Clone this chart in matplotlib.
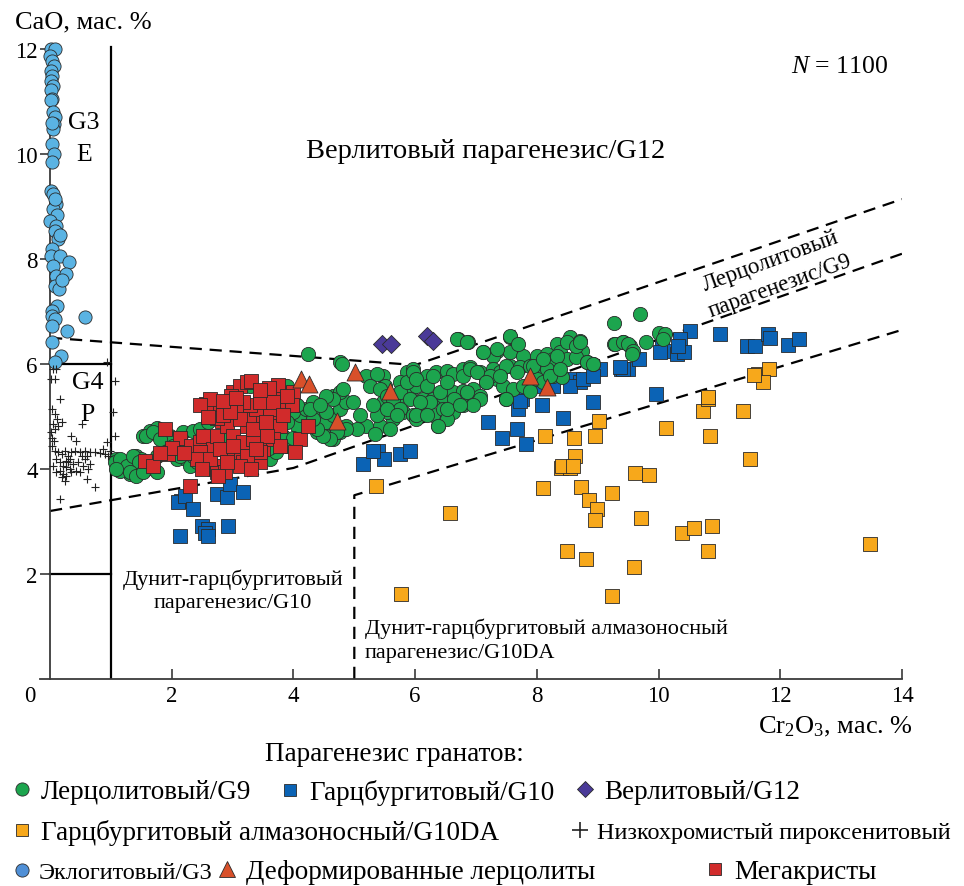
import matplotlib
matplotlib.use('Agg')
import matplotlib.pyplot as plt
from matplotlib.lines import Line2D

plt.rcParams['font.family'] = ['Liberation Serif', 'DejaVu Serif']
plt.rcParams['mathtext.fontset'] = 'custom'
plt.rcParams['mathtext.rm'] = 'Liberation Serif'
plt.rcParams['mathtext.it'] = 'Liberation Serif:italic'

# ---------------- data (Cr2O3, CaO wt.%) ----------------
eclogite_x = [0.02, 0.08, 0.00, 0.04, 0.06, 0.02, 0.04, 0.02, 0.05, 0.02, 0.04, 0.02, 0.05, 0.08,
              0.06, 0.05, 0.04, 0.06, 0.04, 0.02, 0.05, 0.10, 0.05, 0.12, 0.00, 0.10, 0.08, 0.13,
              0.04, 0.02, 0.17, 0.31, 0.05, 0.10, 0.26, 0.08, 0.15, 0.11, 0.04, 0.03, 0.08, 0.04,
              0.57, 0.28, 0.04, 0.18, 0.08, 0.03, 0.08, 0.16, 0.19]
eclogite_y = [12.0, 12.0, 11.87, 11.78, 11.68, 11.59, 11.49, 11.40, 11.30, 11.21, 11.05, 11.02,
              10.80, 10.70, 10.57, 10.48, 10.19, 10.00, 9.84, 9.30, 9.24, 9.05, 8.95, 8.83, 8.73,
              8.63, 8.54, 8.38, 8.19, 8.06, 8.06, 7.95, 7.87, 7.68, 7.71, 7.49, 7.43, 7.10, 7.01,
              6.91, 6.86, 6.72, 6.90, 6.63, 6.42, 6.15, 6.04, 10.6, 9.15, 8.45, 7.6]

pyroxenite_x = [0.05, 0.105, 0.02, 0.08, 0.16, 0.04, 0.08, 0.12, 0.05, 0.13, 0.19, 0.08, 0.02,
                0.04, 0.06, 0.04, 0.08, 0.13, 0.19, 0.24, 0.30, 0.35, 0.41, 0.49, 0.57, 0.65,
                0.74, 0.82, 0.90, 0.95, 0.10, 0.16, 0.21, 0.27, 0.32, 0.38, 0.46, 0.54, 0.63,
                0.16, 0.21, 0.19, 0.27, 0.52, 0.35, 0.43, 0.57, 0.65, 0.74, 0.16, 0.93, 1.06,
                1.04, 1.06, 0.93, 0.27, 0.43, 0.49, 0.60, 0.05, 0.10, 0.24, 0.35, 0.32, 0.30,
                0.52, 0.60, 0.98, 0.87]
pyroxenite_y = [5.90, 5.90, 5.71, 5.71, 5.33, 5.14, 5.05, 4.95, 4.86, 4.82, 4.89, 4.76, 4.70,
                4.60, 4.54, 4.44, 4.35, 4.32, 4.29, 4.35, 4.25, 4.32, 4.35, 4.32, 4.35, 4.32,
                4.33, 4.30, 4.29, 4.25, 4.19, 4.13, 4.06, 4.16, 4.19, 4.10, 4.13, 4.06, 4.00,
                3.97, 3.90, 3.84, 3.87, 4.86, 4.63, 4.54, 4.19, 4.10, 3.65, 3.43, 4.51, 4.63,
                5.08, 5.68, 6.03, 4.03, 3.97, 3.94, 3.81, 4.06, 3.94, 3.78, 3.94, 4.00, 4.13,
                4.25, 4.25, 4.35, 4.38]

harz_da_x = [5.35, 6.57, 5.76, 8.14, 8.61, 8.95, 9.02, 8.63, 8.40, 8.55, 8.10, 8.73, 9.24, 8.85,
             8.98, 8.95, 9.62, 9.85, 9.71, 10.12, 10.73, 10.82, 10.85, 11.38, 11.51, 10.38,
             10.59, 10.87, 10.82, 8.50, 8.81, 9.59, 9.24, 13.48, 11.63, 11.81, 11.72, 11.57,
             10.82, 8.41, 8.60]
harz_da_y = [3.67, 3.17, 1.62, 4.63, 4.60, 4.62, 4.92, 4.24, 4.01, 4.01, 3.63, 3.65, 3.54, 3.41,
             3.24, 3.03, 3.92, 3.89, 3.07, 4.79, 5.11, 5.33, 4.63, 5.10, 4.20, 2.79, 2.88, 2.91,
             2.43, 2.44, 2.29, 2.13, 1.59, 2.57, 5.81, 5.90, 5.65, 5.79, 5.37, 4.06, 4.06]

harz_x = [2.16, 2.10, 2.21, 2.35, 2.74, 2.90, 2.95, 3.17, 2.49, 2.60, 2.54, 2.93, 2.13, 2.60,
          5.15, 5.39, 5.48, 5.75, 5.91, 5.30, 7.20, 7.42, 7.67, 7.69, 7.75, 7.82, 8.08, 8.43,
          8.60, 8.71, 8.93, 9.04, 9.39, 9.50, 8.54, 8.27, 8.00, 8.16, 7.72, 8.05, 8.27, 8.76,
          8.93, 10.52, 11.01, 10.35, 10.05, 10.16, 10.30, 10.41, 10.32, 10.02, 9.67, 9.42,
          9.37, 11.45, 11.58, 11.80, 11.83, 12.13, 12.31, 9.96]
harz_y = [3.40, 3.37, 3.49, 3.24, 3.52, 3.46, 3.71, 3.56, 2.92, 2.86, 2.79, 2.92, 2.73, 2.73,
          4.10, 4.35, 4.19, 4.29, 4.35, 4.35, 4.89, 4.60, 4.76, 5.14, 5.33, 4.48, 5.21, 4.98,
          5.71, 5.65, 5.27, 5.90, 5.90, 5.90, 5.59, 5.65, 5.62, 5.59, 5.30, 5.59, 5.59, 5.71,
          5.78, 6.63, 6.57, 6.48, 6.35, 6.25, 6.19, 6.22, 6.35, 6.22, 6.10, 5.90, 5.94, 6.35,
          6.35, 6.57, 6.49, 6.37, 6.48, 5.43]

lherz_x = [1.09, 1.17, 1.26, 1.34, 1.42, 1.50, 1.58, 1.75, 1.47, 1.31, 1.15, 1.53, 1.64, 1.75,
           1.86, 1.91, 1.97, 2.08, 2.24, 2.30, 2.41, 2.52, 1.97, 2.19, 2.35, 2.46, 2.63, 2.74,
           2.90, 3.12, 3.28, 3.34, 3.61, 3.72, 3.89, 3.67, 3.83, 4.05, 4.10, 3.99, 4.21, 4.32,
           4.38, 4.54, 4.65, 4.76, 4.87, 4.65, 4.76, 4.38, 4.54, 4.65, 4.76, 4.87, 3.89, 3.89,
           4.05, 3.67, 3.45, 3.28, 3.78, 3.06, 4.76, 4.24,
           6.71, 6.87, 7.56, 7.67, 7.12, 7.34, 7.28, 7.56, 7.78, 8.00, 8.16, 8.33, 8.54, 8.71,
           8.74, 8.38, 8.27, 8.49, 8.65, 8.82, 8.93, 9.26, 9.42, 9.53, 5.47, 5.86, 5.97, 6.19,
           6.35, 6.52, 6.62, 6.79, 6.90, 7.06, 7.28, 7.39, 7.56, 7.72, 7.89, 8.05, 8.16, 8.27,
           8.41, 5.47, 5.64, 5.75, 5.91, 6.02, 6.13, 6.30, 6.46, 6.62, 6.79, 6.95, 7.06, 7.17,
           7.34, 7.45, 7.61, 7.78, 7.89, 7.50, 5.64, 5.80, 5.97, 6.13, 6.30, 6.46, 6.62, 6.79,
           6.90, 7.06, 5.53, 6.38, 6.02, 6.24, 6.52, 6.74, 5.50, 5.75, 5.42, 5.58, 7.23, 8.00,
           8.10,
           4.79, 5.20, 5.37, 5.26, 5.42, 5.53, 5.64, 5.75, 5.86, 5.97, 6.02, 5.91, 6.08, 6.19,
           6.30, 6.41, 6.52, 6.63, 6.79, 6.90, 7.01, 6.85, 6.95, 6.38, 6.02, 5.75, 5.37, 5.20,
           5.04, 4.87, 4.71, 4.60, 4.49, 4.38, 4.32, 4.54, 4.65, 4.82, 4.98, 5.09, 5.31, 5.53,
           5.70, 4.54, 4.27, 4.43, 5.34, 6.19, 6.52, 6.74, 6.68, 6.85, 7.12, 7.34, 7.56, 7.69,
           7.50, 7.67, 7.94, 8.10, 8.33, 8.49, 8.65, 8.71, 8.82, 8.93, 8.22, 8.38, 7.17, 7.39,
           7.50,
           9.26, 9.69, 9.28, 9.42, 9.50, 9.58, 9.56, 9.80, 10.00, 10.10, 10.08,
           1.06, 1.15, 1.26, 1.36, 1.47, 1.58, 1.69, 1.80, 1.75, 1.91, 2.02, 2.13, 2.24, 2.35,
           2.43, 1.31, 1.42, 1.53, 1.09, 2.90, 3.30, 3.60, 2.60, 3.90, 4.00]
lherz_y = [4.19, 4.06, 4.00, 4.13, 4.25, 4.19, 4.00, 3.94, 3.94, 3.90, 3.97, 4.63, 4.73, 4.79,
           4.57, 4.44, 4.32, 4.19, 4.19, 4.06, 4.13, 4.19, 4.63, 4.70, 4.73, 4.76, 4.00, 3.94,
           4.32, 4.25, 4.32, 4.19, 4.19, 4.32, 4.44, 4.51, 4.63, 4.82, 5.02, 5.08, 5.14, 5.27,
           4.98, 4.89, 5.02, 5.14, 5.27, 5.40, 5.46, 4.70, 4.63, 4.57, 4.70, 4.82, 5.59, 5.40,
           5.21, 5.02, 5.40, 5.59, 4.82, 4.44, 6.04, 6.19,
           6.48, 6.41, 6.51, 6.38, 6.22, 6.25, 6.16, 6.22, 6.16, 6.16, 6.19, 6.38, 6.51, 6.44,
           6.25, 6.22, 6.10, 6.10, 6.13, 6.03, 6.00, 6.38, 6.41, 6.35, 5.78, 5.84, 5.90, 5.78,
           5.84, 5.87, 5.81, 5.90, 5.94, 5.84, 5.90, 5.84, 5.97, 5.94, 5.97, 5.84, 5.90, 5.78,
           5.75, 5.27, 5.33, 5.40, 5.46, 5.59, 5.33, 5.33, 5.40, 5.46, 5.49, 5.52, 5.40, 5.65,
           5.71, 5.59, 5.52, 5.59, 5.49, 5.33, 4.95, 5.08, 5.02, 5.14, 5.02, 5.14, 5.08, 5.21,
           5.27, 5.33, 5.08, 4.82, 4.95, 5.27, 4.95, 5.27, 5.59, 5.65, 4.82, 4.76, 5.78, 5.71,
           5.65,
           6.00, 5.78, 5.81, 5.59, 5.52, 5.40, 5.33, 5.46, 5.65, 5.84, 5.71, 5.33, 5.27, 5.59,
           5.78, 5.46, 5.65, 5.33, 5.78, 5.90, 5.84, 5.46, 5.21, 4.82, 5.02, 5.14, 5.02, 4.82,
           4.76, 4.76, 4.70, 4.57, 4.63, 4.76, 4.95, 5.08, 5.33, 5.52, 5.27, 5.02, 5.21, 5.14,
           5.02, 5.40, 5.14, 5.21, 4.67, 5.02, 5.14, 5.21, 6.48, 6.41, 6.22, 6.29, 6.54, 6.38,
           5.97, 5.84, 5.97, 6.10, 6.16, 6.41, 6.35, 6.41, 6.03, 6.00, 5.78, 5.90, 5.65, 5.78,
           5.33,
           6.79, 6.95, 6.38, 6.41, 6.38, 6.25, 6.19, 6.41, 6.60, 6.57, 6.48,
           4.13, 4.19, 4.06, 4.25, 4.13, 4.63, 4.70, 4.57, 4.25, 4.32, 4.44, 4.25, 4.38, 4.25,
           4.44, 3.94, 3.87, 3.94, 4.00, 4.60, 4.90, 4.40, 4.90, 4.90, 4.60]

mega_x = [1.89, 2.13, 1.56, 1.69, 1.94, 2.30, 2.32, 2.46, 2.52, 2.57, 2.68, 2.74, 2.82, 2.90,
          3.01, 3.06, 3.17, 3.34, 3.45, 3.50, 3.17, 3.23, 3.34, 3.50, 3.61, 3.67, 3.78, 3.89,
          3.99, 3.67, 3.50, 3.39, 3.28, 3.17, 3.06, 3.01, 3.12, 3.23, 3.31, 2.98, 2.68, 2.57,
          2.63, 2.46, 2.74, 2.84, 2.79, 2.74, 2.87, 2.76, 4.10, 4.02, 4.24, 3.97, 3.67, 3.78,
          3.45, 3.34, 3.12, 2.95, 2.90, 2.46, 2.41, 2.63, 2.79, 3.01, 3.34, 3.56, 3.23, 3.12,
          2.90, 3.39, 3.61, 3.45, 3.67, 3.83, 3.75, 3.60, 3.45, 3.90, 2.50, 3.30, 2.00, 2.20,
          1.80, 2.60, 2.85, 3.05, 3.55]
mega_y = [4.76, 4.60, 4.16, 4.06, 4.29, 3.68, 4.44, 4.51, 4.63, 4.32, 4.38, 4.63, 4.92, 4.82,
          4.63, 4.32, 4.13, 4.19, 4.13, 4.38, 4.51, 4.82, 4.95, 5.02, 4.89, 4.70, 4.82, 5.24,
          5.46, 5.46, 5.33, 5.14, 5.21, 5.27, 5.14, 5.46, 5.59, 5.65, 5.68, 5.40, 5.21, 5.24,
          5.33, 5.21, 4.98, 5.02, 4.06, 3.94, 3.94, 3.87, 4.57, 4.32, 4.82, 5.21, 4.57, 4.44,
          4.32, 4.57, 4.95, 5.08, 4.25, 4.32, 4.19, 4.19, 4.38, 4.44, 4.76, 4.63, 4.25, 4.06,
          4.13, 4.38, 5.14, 5.27, 5.27, 5.02, 5.60, 5.55, 5.50, 5.40, 4.00, 4.00, 4.40, 4.30,
          4.30, 5.00, 5.30, 5.35, 4.90]

deformed_x = [4.13, 4.26, 5.01, 5.58, 4.71, 7.89, 8.16]
deformed_y = [5.71, 5.62, 5.84, 5.49, 4.92, 5.78, 5.56]

wehrlite_x = [5.45, 5.61, 6.19, 6.30]
wehrlite_y = [6.38, 6.38, 6.54, 6.44]

# field boundaries
upper_bx = [0, 6.0, 14]
upper_by = [6.5, 5.98, 9.14]
mid_bx = [0, 4.0, 14]
mid_by = [3.2, 4.02, 8.1]
da_bx = [5, 5, 14]
da_by = [0, 3.5, 6.65]

xticks = [2, 4, 6, 8, 10, 12, 14]
yticks = [2, 4, 6, 8, 10, 12]

# ---------------- figure ----------------
W, H = 964, 887
fig = plt.figure(figsize=(W / 100, H / 100), dpi=100)
ax = fig.add_axes([40 / W, 207 / H, 862 / W, (680 - 44.75) / H])
ax.set_xlim(-0.165, 14)
ax.set_ylim(0, 12.1)

for s in ['top', 'right']:
    ax.spines[s].set_visible(False)
ax.spines['left'].set_position(('data', 0))
for s in ['left', 'bottom']:
    ax.spines[s].set_color('#3a3a3a')
    ax.spines[s].set_linewidth(1.3)

ax.set_xticks(xticks)
ax.set_yticks(yticks)
ax.tick_params(axis='x', direction='in', length=7.5, width=1.2, color='#3a3a3a',
               labelsize=16.5, pad=4)
ax.tick_params(axis='y', direction='out', length=7, width=1.2, color='#3a3a3a',
               labelsize=16.5, pad=2)
ax.annotate('0', xy=(-0.33, 0), xytext=(0, -4), textcoords='offset points',
            ha='center', va='top', fontsize=16.5, annotation_clip=False)

# boundary lines
lc = 'black'
ax.plot([1, 1], [0, 12.03], color=lc, lw=1.6, zorder=2)
ax.plot([0, 1], [6, 6], color=lc, lw=1.6, zorder=2)
ax.plot([0, 1], [2, 2], color=lc, lw=1.6, zorder=2)
dash = (0, (5.5, 3.5))
ax.plot(upper_bx, upper_by, color=lc, lw=1.6, ls=dash, zorder=2)
ax.plot(mid_bx, mid_by, color=lc, lw=1.6, ls=dash, zorder=2)
ax.plot(da_bx, da_by, color=lc, lw=1.6, ls=dash, zorder=2)

ec = '#2a2a2a'
ax.scatter(harz_da_x, harz_da_y, s=88, marker='s', c='#F7A81B', edgecolors=ec, linewidths=0.6, zorder=3, clip_on=False)
ax.scatter(harz_x, harz_y, s=90, marker='s', c='#0B63B5', edgecolors=ec, linewidths=0.6, zorder=4, clip_on=False)
ax.scatter(lherz_x, lherz_y, s=105, marker='o', c='#1CA54E', edgecolors=ec, linewidths=0.6, zorder=5, clip_on=False)
ax.scatter(mega_x, mega_y, s=95, marker='s', c='#D12B2B', edgecolors=ec, linewidths=0.6, zorder=6, clip_on=False)
ax.scatter(deformed_x, deformed_y, s=150, marker='^', c='#D8502A', edgecolors=ec, linewidths=0.6, zorder=7, clip_on=False)
ax.scatter(wehrlite_x, wehrlite_y, s=85, marker='D', c='#4A3A98', edgecolors=ec, linewidths=0.6, zorder=7, clip_on=False)
ax.scatter(eclogite_x, eclogite_y, s=90, marker='o', c='#5AB3E3', edgecolors=ec, linewidths=0.6, zorder=5, clip_on=False)
ax.scatter(pyroxenite_x, pyroxenite_y, s=40, marker='+', c='#222222', linewidths=0.8, zorder=5, clip_on=False)

# field labels
tf = 18.5
ax.text(0.55, 10.61, 'G3', fontsize=tf, ha='center', va='center')
ax.text(0.56, 10.0, 'E', fontsize=tf, ha='center', va='center')
ax.text(0.62, 5.65, 'G4', fontsize=tf, ha='center', va='center')
ax.text(0.61, 5.05, 'P', fontsize=tf, ha='center', va='center')
ax.text(7.15, 10.06, 'Верлитовый парагенезис/G12', fontsize=20.5, ha='center', va='center')
ax.text(13.77, 11.68, '$N$ = 1100', fontsize=tf, ha='right', va='center')
ax.text(3.0, 1.69, 'Дунит-гарцбургитовый\nпарагенезис/G10', fontsize=16, ha='center',
        va='center', multialignment='center', linespacing=1.35)
ax.text(5.17, 0.74, 'Дунит-гарцбургитовый алмазоносный\nпарагенезис/G10DA', fontsize=16,
        ha='left', va='center', multialignment='left', linespacing=1.35)
ax.text(11.92, 7.73, 'Лерцолитовый\nпарагенезис/G9', fontsize=16.5, ha='center', va='center',
        multialignment='center', rotation=20, rotation_mode='anchor', linespacing=1.3)

fig.text(15 / W, 1 - 22 / H, 'CaO, мас. %', fontsize=19, ha='left', va='center')
fig.text(913 / W, 1 - 727 / H, 'Cr$_2$O$_3$, мас. %', fontsize=19, ha='right', va='center')

# legend
lf = 19.5
fig.text(265 / W, 1 - 755 / H, 'Парагенезис гранатов:', fontsize=lf, ha='left', va='center')
entries = [
    (Line2D([], [], ls='', marker='o', ms=9.5, mfc='#1CA54E', mec=ec, mew=0.6), 'Лерцолитовый/G9', 22, 793, lf),
    (Line2D([], [], ls='', marker='s', ms=9, mfc='#0B63B5', mec=ec, mew=0.6), 'Гарцбургитовый/G10', 290, 793, lf),
    (Line2D([], [], ls='', marker='D', ms=8.5, mfc='#4A3A98', mec=ec, mew=0.6), 'Верлитовый/G12', 585, 793, lf),
    (Line2D([], [], ls='', marker='s', ms=9, mfc='#F7A81B', mec=ec, mew=0.6), 'Гарцбургитовый алмазоносный/G10DA', 22, 833, lf),
    (Line2D([], [], ls='', marker='+', ms=12, mec='#222222', mew=1.2), 'Низкохромистый пироксенитовый', 580, 833, 17.5),
    (Line2D([], [], ls='', marker='o', ms=9.5, mfc='#4F8FD6', mec=ec, mew=0.6), 'Эклогитовый/G3', 22, 873, 17.5),
    (Line2D([], [], ls='', marker='^', ms=11.5, mfc='#D8502A', mec=ec, mew=0.6), 'Деформированные лерцолиты', 227, 873, lf),
    (Line2D([], [], ls='', marker='s', ms=9, mfc='#D12B2B', mec=ec, mew=0.6), 'Мегакристы', 715, 873, lf),
]
hl = 0.8
for h, lab, mx, my, fs in entries:
    off = hl / 2 * fs * 100 / 72
    fig.legend([h], [lab], loc='center left', frameon=False, fontsize=fs,
               handlelength=hl, handletextpad=0.3, borderpad=0, borderaxespad=0,
               bbox_to_anchor=((mx - off) / W, 1 - my / H))

fig.savefig('out.png', dpi=100)
